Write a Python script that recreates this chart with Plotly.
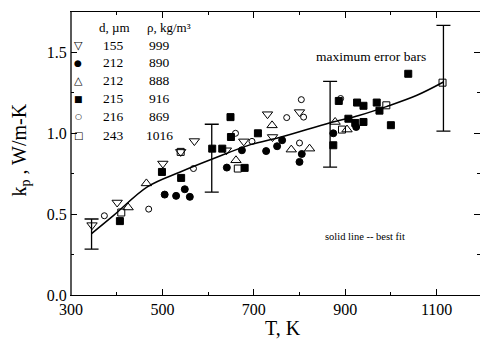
import plotly.graph_objects as go

FONT = "Liberation Serif, Times New Roman, serif"
SYMFONT = "DejaVu Sans"

# ---- data ----
# d=155 um, rho=999 (open down-triangle)
t155 = [346, 401, 501, 540, 570, 640, 678, 730, 741, 800]
k155 = [0.432, 0.572, 0.813, 0.885, 0.952, 0.895, 0.950, 1.118, 0.977, 1.131]
# d=212 um, rho=890 (filled circle)
t212a = [505, 530, 549, 560, 641, 674, 727, 751, 762, 800, 805, 874, 924]
k212a = [0.621, 0.613, 0.654, 0.607, 0.788, 0.895, 0.890, 0.920, 0.957, 0.823, 0.872, 1.000, 1.039]
# d=212 um, rho=888 (open up-triangle)
t212b = [425, 465, 661, 740, 782, 822, 878, 904]
k212b = [0.541, 0.690, 0.833, 1.049, 0.899, 0.905, 1.070, 1.023]
# d=215 um, rho=916 (filled square)
t215 = [407, 499, 541, 609, 631, 649, 650, 680, 709, 874, 886, 907, 922, 940, 926, 940, 969, 975, 1000, 1038]
k215 = [0.457, 0.761, 0.724, 0.905, 0.905, 1.100, 0.977, 0.786, 1.000, 0.926, 1.200, 1.090,
        1.064, 1.070, 1.190, 1.170, 1.190, 1.140, 1.050, 1.368]
# d=216 um, rho=869 (open circle)
t216 = [373, 470, 568, 660, 696, 772, 800, 804, 809, 890]
k216 = [0.490, 0.531, 0.782, 1.000, 0.950, 1.097, 0.940, 1.208, 1.100, 1.215]
# d=243 um, rho=1016 (open square)
t243 = [410, 540, 665, 893, 990, 1113]
k243 = [0.510, 0.885, 0.782, 1.023, 1.173, 1.313]

# best fit line
fit_t = [345, 394, 467, 539, 612, 693, 758, 867, 930, 990, 1057, 1115]
fit_k = [0.380, 0.494, 0.669, 0.761, 0.844, 0.930, 0.975, 1.065, 1.110, 1.165, 1.235, 1.317]

# maximum error bars
err_t = [345, 608, 867, 1115]
err_c = [0.377, 0.846, 1.056, 1.340]
err_h = [0.093, 0.210, 0.265, 0.327]

# legend table
leg_d = ["155", "212", "212", "215", "216", "243"]
leg_rho = ["999", "890", "888", "916", "869", "1016"]
leg_glyph = ["\u25bd", "\u25cf", "\u25b3", "\u25a0", "\u25cb", "\u25a1"]
leg_gsize = [11, 9, 11, 9, 8, 10]

series = [
    (t155, k155, "triangle-down-open", 9),
    (t212a, k212a, "circle", 7),
    (t212b, k212b, "triangle-up-open", 9),
    (t215, k215, "square", 7),
    (t216, k216, "circle-open", 6),
    (t243, k243, "square-open", 7),
]

L, R, T, B = 70.5, 480.0, 12.0, 295.0
PW, PH = R - L, B - T


def px(xp):
    return (xp - L) / PW


def py(yp):
    return (B - yp) / PH


fig = go.Figure()

fig.add_trace(go.Scatter(x=fit_t, y=fit_k, mode="lines", line=dict(color="black", width=1.5, shape="spline"),
                         showlegend=False, hoverinfo="skip"))
fig.add_trace(go.Scatter(x=err_t, y=err_c, mode="markers", marker=dict(size=1, color="rgba(0,0,0,0)"),
                         error_y=dict(type="data", array=err_h, color="black", thickness=1.3, width=7),
                         showlegend=False, hoverinfo="skip"))

for i, (tx, ky, sym, sz) in enumerate(series):
    fig.add_trace(go.Scatter(x=tx, y=ky, mode="markers", name=leg_d[i] + " " + leg_rho[i], showlegend=False,
                             marker=dict(symbol=sym, size=sz, color="black", line=dict(color="black", width=1))))


def note(text, xp, yp, size, anchor="left", angle=0, family=FONT):
    fig.add_annotation(text=text, x=px(xp), y=py(yp), xref="paper", yref="paper", xanchor=anchor,
                       yanchor="middle", showarrow=False, textangle=angle,
                       font=dict(family=family, size=size, color="black"))


note("d, \u00b5m", 97, 27, 13)
note("\u03c1, kg/m\u00b3", 145, 27, 13)
for i in range(len(leg_d)):
    yrow = 45 + 18 * i
    note(leg_glyph[i], 78, yrow, leg_gsize[i], anchor="center", family=SYMFONT)
    note(leg_d[i], 101, yrow, 13.5)
    note(leg_rho[i], 147 if len(leg_rho[i]) == 3 else 144, yrow, 13.5)

note("maximum error bars", 314, 56, 13.5)
note("solid line -- best fit", 323, 236, 10.5)
note("T, K", 283, 328, 20, anchor="center")
note("k<sub>p</sub> , W/m-K", 19, 150, 20, anchor="center", angle=-90)

# left frame line
fig.add_shape(type="line", xref="paper", yref="paper", x0=0, x1=0, y0=0, y1=1, line=dict(color="black", width=1.3))

fig.update_layout(
    width=480, height=343,
    margin=dict(l=L, r=480 - R, t=T, b=343 - B, autoexpand=False),
    paper_bgcolor="white", plot_bgcolor="white",
    font=dict(family=FONT, color="black"),
    showlegend=False,
    xaxis=dict(range=[300, 1195], tick0=300, dtick=200, ticks="inside", ticklen=6, tickwidth=1.2,
               tickcolor="black", showline=True, linecolor="black", linewidth=1.3, mirror="ticks",
               showgrid=False, zeroline=False, automargin=False,
               minor=dict(dtick=100, tick0=300, ticks="inside", ticklen=3, tickcolor="black", showgrid=False),
               tickfont=dict(family=FONT, size=16, color="black")),
    yaxis=dict(range=[0, 1.75], tick0=0, dtick=0.5, tickformat=".1f", ticks="inside", ticklen=6, tickwidth=1.2,
               tickcolor="black", showline=True, linecolor="rgba(0,0,0,0)", mirror="ticks",
               showgrid=False, zeroline=False, automargin=False,
               minor=dict(dtick=0.25, ticks="inside", ticklen=3, tickcolor="black", showgrid=False),
               tickfont=dict(family=FONT, size=16, color="black")),
)

fig.write_html("out.html", config={"displayModeBar": False},
               post_script="document.body.style.margin='0';document.body.style.overflow='hidden';")
